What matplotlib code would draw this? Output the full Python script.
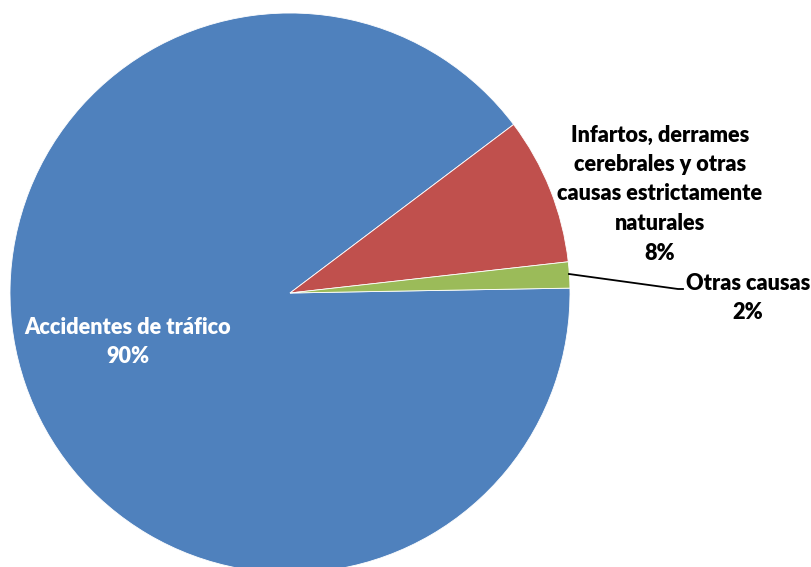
import matplotlib
matplotlib.use("Agg")
import matplotlib.pyplot as plt

categories = ["Accidentes de tráfico",
              "Infartos, derrames\ncerebrales y otras\ncausas estrictamente\nnaturales",
              "Otras causas"]
values = [90.0, 8.5, 1.5]
pct_labels = ["90%", "8%", "2%"]
colors = ["#4F81BD", "#C0504D", "#9BBB59"]

W, H = 812, 567
fig = plt.figure(figsize=(W / 100, H / 100), dpi=100)
cx, cy, r = 290, 293, 280
ax = fig.add_axes([(cx - r) / W, (H - cy - r) / H, 2 * r / W, 2 * r / H])
ax.pie(values, colors=colors, startangle=1, counterclock=False, radius=1,
       wedgeprops=dict(edgecolor="white", linewidth=0.6))
ax.set_xlim(-1, 1)
ax.set_ylim(-1, 1)
ax.set_aspect("equal")
ax.axis("off")

def d(px, py):
    return (px - cx) / r, (cy - py) / r

font = dict(family=["Lato", "DejaVu Sans"], fontweight="heavy", fontsize=15.6,
            ha="center", va="center", linespacing=1.5)

x, y = d(128, 342)
ax.text(x, y, categories[0] + "\n" + pct_labels[0], color="white", **font)
x, y = d(660, 194)
ax.text(x, y, categories[1] + "\n" + pct_labels[1], color="black", **font)
x, y = d(748, 298)
ax.text(x, y, categories[2] + "\n" + pct_labels[2], color="black", **font)

p0, p1, p2 = d(569, 274), d(678, 289), d(683, 289)
ax.plot([p0[0], p1[0], p2[0]], [p0[1], p1[1], p2[1]], color="black",
        linewidth=1.3, clip_on=False)

fig.savefig("out.png", dpi=100)
